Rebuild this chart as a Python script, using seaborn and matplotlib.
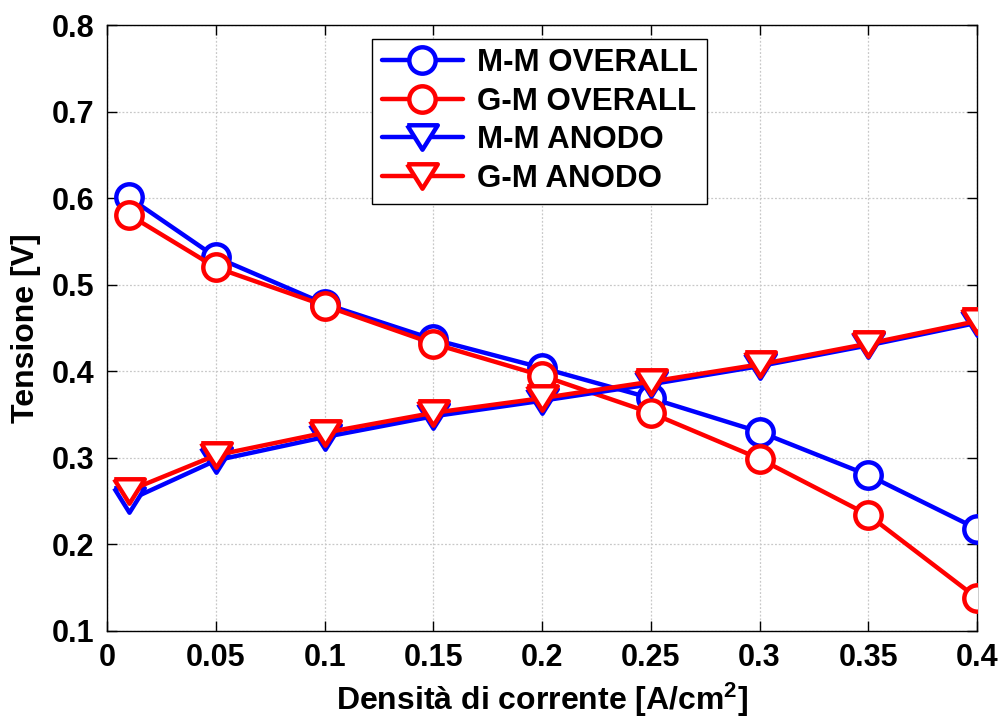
import matplotlib
matplotlib.use("Agg")
import matplotlib.pyplot as plt
import seaborn as sns
import pandas as pd

# Current density [A/cm^2]
densita = [0.01, 0.05, 0.10, 0.15, 0.20, 0.25, 0.30, 0.35, 0.40]

# Cell voltage [V]
mm_overall = [0.601, 0.532, 0.478, 0.437, 0.404, 0.369, 0.330, 0.280, 0.218]
gm_overall = [0.581, 0.520, 0.476, 0.432, 0.395, 0.352, 0.299, 0.234, 0.138]
mm_anodo = [0.251, 0.297, 0.324, 0.348, 0.366, 0.385, 0.406, 0.430, 0.456]
gm_anodo = [0.262, 0.303, 0.329, 0.352, 0.369, 0.388, 0.408, 0.432, 0.458]

# Downward triangle, slightly wider than tall
tri_down = [(-1.0, 0.8), (1.0, 0.8), (0.0, -0.8), (-1.0, 0.8)]

series = [
    ("M-M OVERALL", mm_overall, "#0000ff", "o", 19),
    ("G-M OVERALL", gm_overall, "#ff0000", "o", 19),
    ("M-M ANODO", mm_anodo, "#0000ff", tri_down, 22),
    ("G-M ANODO", gm_anodo, "#ff0000", tri_down, 22),
]

sns.set_style("whitegrid")
plt.rcParams["font.family"] = ["Liberation Sans", "DejaVu Sans"]
plt.rcParams["font.weight"] = "bold"
plt.rcParams["mathtext.fontset"] = "custom"
plt.rcParams["mathtext.rm"] = "Liberation Sans:bold"
plt.rcParams["mathtext.bf"] = "Liberation Sans:bold"
plt.rcParams["mathtext.default"] = "bf"
for key in ("text.color", "axes.labelcolor", "xtick.color", "ytick.color"):
    plt.rcParams[key] = "black"

fig = plt.figure(figsize=(10.01, 7.21), dpi=100)
ax = fig.add_axes([0.107, 0.125, 0.869, 0.840])

for label, vals, col, mk, ms in series:
    df = pd.DataFrame({"x": densita, "y": vals})
    sns.lineplot(data=df, x="x", y="y", ax=ax, color=col, linewidth=3.2,
                 marker=mk, markersize=ms, markerfacecolor="white",
                 markeredgecolor=col, markeredgewidth=3.2, label=label,
                 zorder=3)

ax.set_xlim(0, 0.4)
ax.set_ylim(0.1, 0.8)
ax.set_xticks([0, 0.05, 0.1, 0.15, 0.2, 0.25, 0.3, 0.35, 0.4])
ax.set_xticklabels(["0", "0.05", "0.1", "0.15", "0.2", "0.25", "0.3", "0.35", "0.4"])
ax.set_yticks([0.1, 0.2, 0.3, 0.4, 0.5, 0.6, 0.7, 0.8])
ax.set_yticklabels(["0.1", "0.2", "0.3", "0.4", "0.5", "0.6", "0.7", "0.8"])

ax.grid(True, color="#c8c8c8", linestyle=(0, (1.5, 1.5)), linewidth=0.9)
ax.set_facecolor("white")
for sp in ax.spines.values():
    sp.set_visible(True)
    sp.set_color("black")
    sp.set_linewidth(1.0)

ax.tick_params(axis="both", which="both", direction="in", length=7, width=1,
               colors="black", labelsize=22, top=True, right=True,
               bottom=True, left=True, pad=9)
for t in ax.get_xticklabels() + ax.get_yticklabels():
    t.set_fontweight("bold")
    t.set_color("black")

ax.set_xlabel("Densità di corrente [A/cm$^2$]", fontsize=23, fontweight="bold",
              labelpad=5, color="black")
ax.set_ylabel("Tensione [V]", fontsize=23, fontweight="bold", labelpad=8,
              color="black")

leg = ax.legend(loc="upper left", bbox_to_anchor=(0.305, 0.978),
                fontsize=22.5, frameon=True, fancybox=False, shadow=False,
                handlelength=2.6, labelspacing=0.28, borderpad=0.3,
                handletextpad=0.45, borderaxespad=0)
leg.get_frame().set_edgecolor("black")
leg.get_frame().set_linewidth(1.0)
leg.get_frame().set_alpha(1)
for t in leg.get_texts():
    t.set_fontweight("bold")
    t.set_color("black")

fig.savefig("out.png", dpi=100, facecolor="white")
